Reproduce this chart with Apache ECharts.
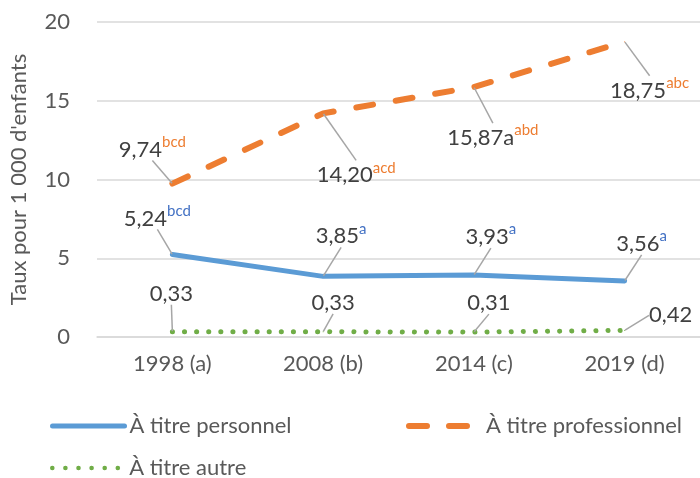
<!DOCTYPE html>
<html>
<head>
<meta charset="utf-8">
<script src="https://cdn.jsdelivr.net/npm/echarts@6/dist/echarts.min.js"></script>
<style>
  html, body { margin: 0; padding: 0; background: #fff; }
  #chart { width: 700px; height: 478px; }
</style>
</head>
<body>
<div id="chart"></div>
<script>
// données
const categories = ['1998 (a)', '2008 (b)', '2014 (c)', '2019 (d)'];
const personnel = [5.24, 3.85, 3.93, 3.56];
const professionnel = [9.74, 14.20, 15.87, 18.75];
const autre = [0.33, 0.33, 0.31, 0.42];
// exposants (différences significatives) et suffixes
const supPersonnel = ['bcd', 'a', 'a', 'a'];
const supProfessionnel = ['bcd', 'acd', 'abd', 'abc'];
const suffixProfessionnel = ['', '', 'a', ''];
const supAutre = ['', '', '', ''];

// décalage des étiquettes (px) par rapport au point
const offPersonnel = [[-15, -38], [18, -42], [17, -40], [17, -39]];
const offProfessionnel = [[-20, -36], [33, 60], [19, 49], [25, 47]];
const offAutre = [[-1, -40], [10, -31], [15, -31], [46, -17]];

const FONT = 'Lato';
const TXT = '#404040';
const AXIS_TXT = '#595959';
const BLUE = '#5B9BD5';
const ORANGE = '#ED7D31';
const GREEN = '#70AD47';

const fmt = v => v.toFixed(2).replace('.', ',');

function makeLabel(sups, suffix, supColor) {
  return {
    show: true,
    position: 'inside',
    padding: [3, 4],
    formatter: p => {
      const s = sups[p.dataIndex];
      const suf = suffix ? suffix[p.dataIndex] : '';
      return '{v|' + fmt(p.value) + suf + '}' + (s ? '{s|' + s + '}' : '');
    },
    rich: {
      v: { fontFamily: FONT, fontSize: 22, color: TXT, lineHeight: 26, verticalAlign: 'bottom' },
      s: { fontFamily: FONT, fontSize: 15, color: supColor, lineHeight: 26, verticalAlign: 'top', padding: [0, 0, 8, 0] }
    }
  };
}

function makeSeries(name, values, color, lineType, width, sups, suffix, supColor, offsets, z) {
  return {
    name: name,
    type: 'line',
    data: values,
    z: z,
    symbol: 'circle',
    symbolSize: 1,
    showSymbol: true,
    itemStyle: { color: color },
    lineStyle: { color: color, width: width, type: lineType, cap: 'round' },
    label: makeLabel(sups, suffix, supColor),
    labelLine: { show: true, lineStyle: { color: '#A6A6A6', width: 1.5 } },
    labelLayout: p => ({ dx: offsets[p.dataIndex][0], dy: offsets[p.dataIndex][1] }),
    emphasis: { disabled: true },
    animation: false
  };
}

const chart = echarts.init(document.getElementById('chart'));

function legendFor(name, left, top, lineStyle) {
  return {
    data: [name],
    left: left,
    top: top,
    padding: 0,
    orient: 'horizontal',
    itemWidth: 72,
    itemHeight: 14,
    itemStyle: { opacity: 0 },
    lineStyle: Object.assign({ cap: 'round' }, lineStyle),
    textStyle: { fontFamily: FONT, fontSize: 22, color: AXIS_TXT },
    selectedMode: false
  };
}

chart.setOption({
  backgroundColor: '#fff',
  animation: false,
  grid: { left: 94, top: 22, width: 610, height: 315 },
  legend: [
    legendFor('À titre personnel', 50, 415, { width: 5, type: 'solid' }),
    legendFor('À titre professionnel', 406, 415, { width: 6, type: [18, 22] }),
    legendFor('À titre autre', 50, 457, { width: 4.5, type: [0.1, 13] })
  ],
  xAxis: {
    type: 'category',
    data: categories,
    boundaryGap: true,
    axisLine: { lineStyle: { color: '#D9D9D9', width: 1.5 } },
    axisTick: { show: false },
    axisLabel: { fontFamily: FONT, fontSize: 22, color: AXIS_TXT, margin: 16 }
  },
  yAxis: {
    type: 'value',
    min: 0,
    max: 20,
    interval: 5,
    name: "Taux pour 1 000 d'enfants",
    nameLocation: 'middle',
    nameGap: 67,
    nameTextStyle: { fontFamily: FONT, fontSize: 22, color: AXIS_TXT },
    axisLine: { show: false },
    axisTick: { show: false },
    splitLine: { lineStyle: { color: '#D9D9D9', width: 1.5 } },
    axisLabel: { fontFamily: FONT, fontSize: 22, color: AXIS_TXT, margin: 27 }
  },
  series: [
    makeSeries('À titre autre', autre, GREEN, [0.1, 12], 5, supAutre, null, GREEN, offAutre, 2),
    makeSeries('À titre personnel', personnel, BLUE, 'solid', 5, supPersonnel, null, '#4472C4', offPersonnel, 3),
    makeSeries('À titre professionnel', professionnel, ORANGE, [17, 23], 6, supProfessionnel, suffixProfessionnel, ORANGE, offProfessionnel, 4)
  ]
});

window.addEventListener('resize', () => chart.resize());
</script>
</body>
</html>
